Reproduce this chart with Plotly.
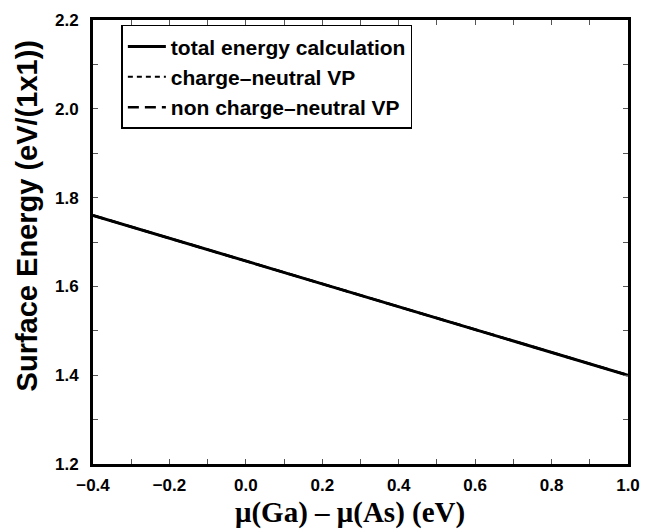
import plotly.graph_objects as go

# Data
mu_diff = [-0.4, 1.0]
total_energy = [1.76, 1.40]
charge_neutral_vp = [1.76, 1.40]
non_charge_neutral_vp = [1.76, 1.40]
series_names = ["total energy calculation", "charge\u2013neutral VP", "non charge\u2013neutral VP"]

fig = go.Figure()
# dashed series drawn first so the solid line sits on top
fig.add_trace(go.Scatter(x=mu_diff, y=charge_neutral_vp, mode="lines", name=series_names[1],
                         legendrank=2,
                         line=dict(color="black", width=2, dash="5px,4px")))
fig.add_trace(go.Scatter(x=mu_diff, y=non_charge_neutral_vp, mode="lines", name=series_names[2],
                         legendrank=3,
                         line=dict(color="black", width=2.5, dash="11px,6px")))
fig.add_trace(go.Scatter(x=mu_diff, y=total_energy, mode="lines", name=series_names[0],
                         legendrank=1,
                         line=dict(color="black", width=3, dash="solid")))

tickfont = dict(family="Liberation Sans, Arial, sans-serif", size=17, color="black", weight="bold")
L, R, T, B = 93, 11, 13, 65
W, H = 651, 529
pw, ph = W - L - R, H - T - B

fig.update_layout(
    width=W, height=H,
    margin=dict(l=L, r=R, t=T, b=B),
    paper_bgcolor="white", plot_bgcolor="white",
    showlegend=True,
    legend=dict(
        x=(122 - L) / pw, y=(H - B - 18) / ph, xanchor="left", yanchor="top",
        bordercolor="black", borderwidth=1.5, bgcolor="white",
        font=dict(family="Liberation Sans, Arial, sans-serif", size=21, color="black", weight="bold"),
        itemwidth=38, tracegroupgap=0,
    ),
    xaxis=dict(
        range=[-0.4, 1.0], dtick=0.2, tick0=0, tickformat=".1f",
        showgrid=False, zeroline=False,
        showline=True, linecolor="black", linewidth=3, mirror="allticks",
        ticks="inside", ticklen=5, tickwidth=1, tickcolor="#555",
        minor=dict(dtick=0.1, ticks="inside", ticklen=5, tickwidth=1, tickcolor="#555", showgrid=False),
        tickfont=tickfont, ticklabelstandoff=4,
    ),
    yaxis=dict(
        range=[1.2, 2.2], dtick=0.2, tick0=1.2, tickformat=".1f",
        showgrid=False, zeroline=False,
        showline=True, linecolor="black", linewidth=3, mirror="allticks",
        ticks="inside", ticklen=5, tickwidth=1, tickcolor="#555",
        minor=dict(dtick=0.1, ticks="inside", ticklen=5, tickwidth=1, tickcolor="#555", showgrid=False),
        tickfont=tickfont, ticklabelstandoff=8,
    ),
    annotations=[
        dict(text="\u03bc(Ga) \u2013 \u03bc(As) (eV)", xref="paper", yref="paper",
             x=(356 - L) / pw, y=-(513 - (H - B)) / ph, xanchor="center", yanchor="middle",
             showarrow=False,
             font=dict(family="Liberation Serif, Times New Roman, serif", size=29, color="black", weight="bold")),
        dict(text="Surface Energy (eV/(1x1))", xref="paper", yref="paper",
             x=(25 - L) / pw, y=((H - B) - 212) / ph, xanchor="center", yanchor="middle",
             textangle=-90, showarrow=False,
             font=dict(family="Liberation Sans, Arial, sans-serif", size=29, color="black", weight="bold")),
    ],
)

fig.write_html("out.html")
